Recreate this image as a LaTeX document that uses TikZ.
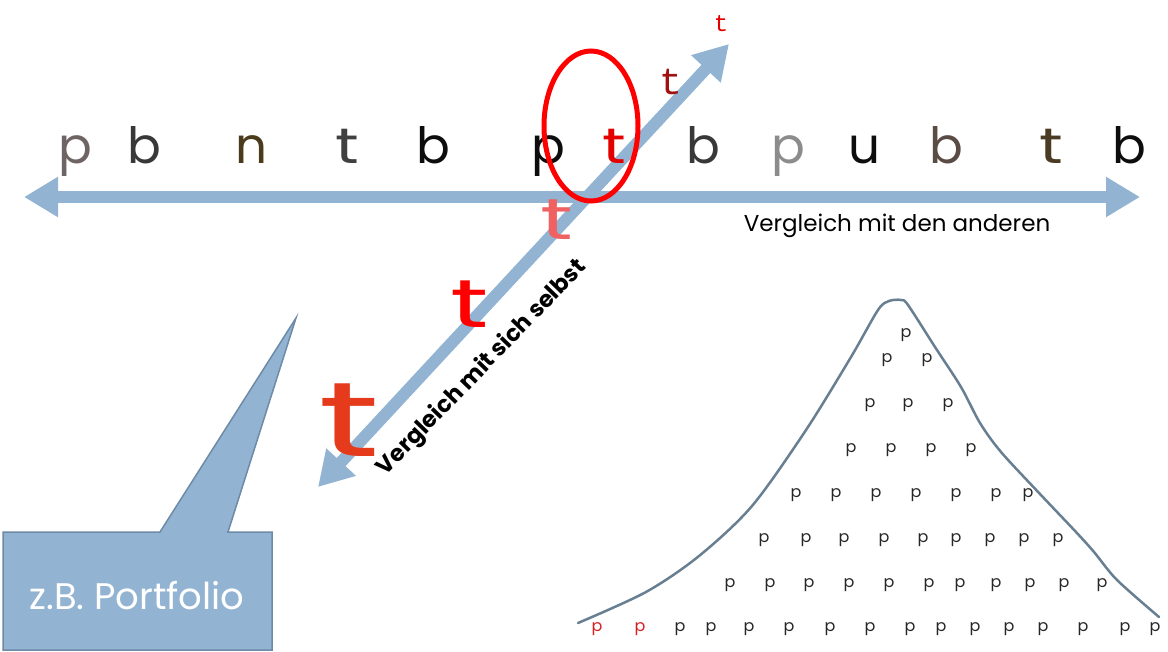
\documentclass[tikz,border=0pt]{standalone}
\usepackage{fontspec}
\setmainfont{Poppins}
\newfontfamily\monof{Liberation Mono}
\usetikzlibrary{arrows.meta}
\definecolor{arrowblue}{HTML}{92B4D2}
\definecolor{boxedge}{HTML}{6D8AA6}
\definecolor{curvecol}{HTML}{687F92}
\definecolor{salmon}{HTML}{F06262}
\definecolor{darkred}{HTML}{A01010}
\definecolor{orangered}{HTML}{E53A1C}
\definecolor{pred}{HTML}{D42020}
\definecolor{greybrown}{HTML}{6E6464}
\definecolor{brownb}{HTML}{5B4B45}
\definecolor{brownt}{HTML}{4A3B22}
\definecolor{brownn}{HTML}{4B3B1C}
\newcommand{\widet}[1]{\scalebox{#1}[1]{t}}
\tikzset{
  bigarrow/.style={draw=arrowblue, line width=12pt, {Triangle[width=38pt,length=34pt]}-{Triangle[width=38pt,length=34pt]}},
  rowletter/.style={anchor=base, inner sep=0pt, font=\fontsize{50}{50}\selectfont},
  bellp/.style={inner sep=0pt, font=\fontsize{16}{16}\selectfont, text=black!85},
  tlet/.style={inner sep=0pt},
  label/.style={inner sep=0pt, text=black},
}
\begin{document}
\begin{tikzpicture}[x=1pt,y=-1pt]
\useasboundingbox (0,0) rectangle (1168,651);
% arrows
\coordinate (hl) at (24,197);
\coordinate (hr) at (1140,197);
\coordinate (dl) at (318,487);
\coordinate (du) at (729,44);
\draw[bigarrow] (hl) -- (hr);
\draw[bigarrow] (dl) -- (du);
% top row letters
\node[rowletter, text=greybrown] (l1) at (75,163) {p};
\node[rowletter, text=black!78] (l2) at (144,163) {b};
\node[rowletter, text=brownn] (l3) at (251,163) {n};
\node[rowletter, text=black!75] (l4) at (347,163) {\widet{1.3}};
\node[rowletter, text=black!95] (l5) at (433,163) {b};
\node[rowletter, text=black!95] (l6) at (548,163) {p};
\node[rowletter, text=red!90!black] (l7) at (614,163) {\widet{1.3}};
\node[rowletter, text=black!78] (l8) at (703,163) {b};
\node[rowletter, text=black!45] (l9) at (788,163) {p};
\node[rowletter, text=black!95] (l10) at (864,163) {u};
\node[rowletter, text=brownb] (l11) at (946,163) {b};
\node[rowletter, text=brownt] (l12) at (1051,163) {\widet{1.3}};
\node[rowletter, text=black!95] (l13) at (1129,163) {b};
% ellipse
\draw[red, line width=5pt] (591,126) ellipse [x radius=47, y radius=75];
% diagonal t's
\node[tlet, text=red!90!black, font=\monof\fontsize{24}{24}\selectfont] (t1) at (721,24) {t};
\node[tlet, text=darkred, font=\monof\fontsize{38}{38}\selectfont] (t2) at (671,82) {t};
\node[tlet, text=salmon, font=\fontsize{58}{58}\selectfont] (t3) at (557,220) {\widet{1.55}};
\node[tlet, text=red, font=\fontsize{68}{68}\selectfont] (t4) at (470,304) {\widet{1.55}};
\node[tlet, text=orangered, font=\fontsize{106}{106}\selectfont] (t5) at (349,420) {\widet{1.6}};
% labels
\node[label, font=\fontsize{23}{23}\selectfont] (lab1) at (897,226) {Vergleich mit den anderen};
\node[label, font=\bfseries\fontsize{23}{23}\selectfont, rotate=46] (lab2) at (482,368) {Vergleich mit sich selbst};
% callout
\filldraw[fill=arrowblue, draw=boxedge, line width=1.5pt, line join=miter]
  (3,532) -- (160,532) -- (296,318) -- (228,532) -- (272,532) -- (272,650) -- (3,650) -- cycle;
\node[label, text=white, font=\fontsize{37}{37}\selectfont] (box) at (137,596) {z.B. Portfolio};
% bell curve
\draw[curvecol, line width=2.5pt, line cap=round] plot[smooth, tension=0.5] coordinates {
 (578,623) (646,592) (699,556) (752,506) (806,430) (851,357) (878,310) (889,301) (901,300) (908,305)
 (935,347) (961,387) (980,423) (1001,452) (1040,494) (1076,532) (1094,552) (1117,580) (1159,617)};
% p's
\foreach \x [count=\i] in {906} \node[bellp] (r1p\i) at (\x,335) {p};
\foreach \x [count=\i] in {887,927} \node[bellp] (r2p\i) at (\x,360) {p};
\foreach \x [count=\i] in {870,908,948} \node[bellp] (r3p\i) at (\x,405) {p};
\foreach \x [count=\i] in {851,891,931,971} \node[bellp] (r4p\i) at (\x,450) {p};
\foreach \x [count=\i] in {796,836,876,916,956,996,1028} \node[bellp] (r5p\i) at (\x,495) {p};
\foreach \x [count=\i] in {764,806,844,884,923,956,990,1024,1058} \node[bellp] (r6p\i) at (\x,540) {p};
\foreach \x [count=\i] in {730,770,809,849,889,929,960,996,1030,1064,1102} \node[bellp] (r7p\i) at (\x,585) {p};
\node[bellp, text=pred] (r8pa) at (597,629) {p};
\node[bellp, text=pred] (r8pb) at (640,629) {p};
\foreach \x [count=\i] in {680,711,749,789,830,870,910,941,975,1009,1043,1083,1125,1155} \node[bellp] (r8p\i) at (\x,629) {p};
\end{tikzpicture}
\end{document}
